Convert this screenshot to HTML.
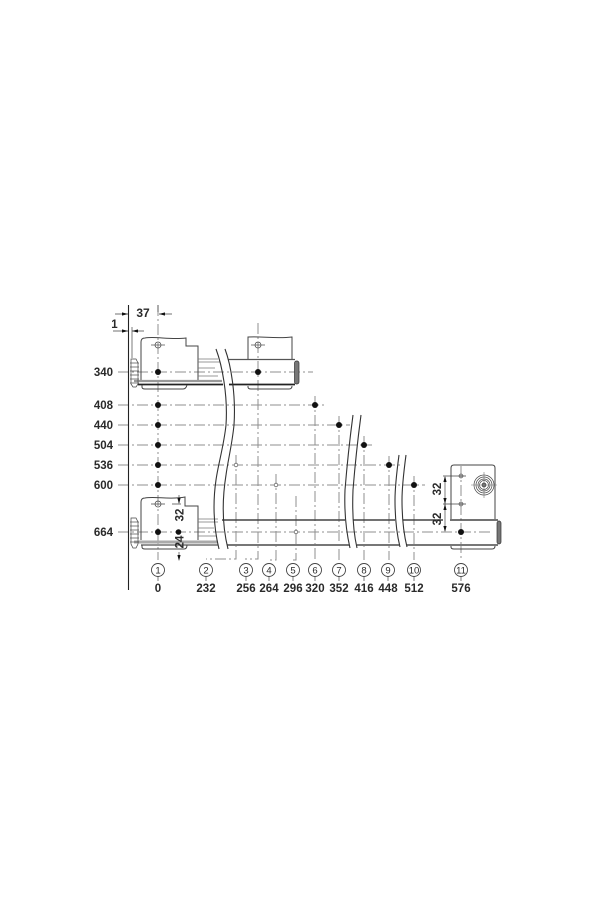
<!DOCTYPE html>
<html><head><meta charset="utf-8"><style>
html,body{margin:0;padding:0;background:#fff}
svg{display:block}
text{font-family:"Liberation Sans",sans-serif;font-weight:bold;font-size:11.5px;fill:#2a2a2a}
.d{stroke:#8f8f8f;stroke-width:1;fill:none;stroke-dasharray:11 3 2 3}
.o{stroke:#444;stroke-width:1;fill:none}
.t{stroke:#444;stroke-width:.7;fill:none}
.g{fill:#777;stroke:#333;stroke-width:.7}
.a{fill:#111;stroke:none}
.n{font-size:9.5px;font-weight:normal}
</style></head><body>
<svg width="600" height="900" viewBox="0 0 600 900" xmlns="http://www.w3.org/2000/svg">
<rect width="600" height="900" fill="#fff"/>
<!-- centre lines -->
<g class="d">
<path d="M118 372H313M118 405H325M118 425H350M118 445H372M118 465H400M118 485H425M118 532H490"/>
<path d="M158 305V560M258 323V559H245M236 455V559H206M276 474V560H269M296 496V560H293M315 396V560M339 416V560M364 436V560M389 456V560M414 476V560M461 466V558"/>
</g>
<!-- wall -->
<path d="M128.500 305V590" stroke="#222" stroke-width="1.100" fill="none"/>
<!-- top-left unit -->
<path class="o" d="M141 381V342Q141 338 145 338C155 336 170 340 186 338V346H198V380"/>
<path d="M198 359H218M198 362H220M198 368H215M198 376H218" stroke="#777" stroke-width=".8" fill="none"/>
<path d="M134 381H222" stroke="#999" stroke-width="2.200" fill="none"/>
<path d="M138 384.500H223" stroke="#222" stroke-width="1.800" fill="none"/>
<path class="o" d="M142 385V387Q142 389 145 389H183Q186 389 187 385"/>
<path class="t" d="M131 359H136L138 363V384L136 387H133L131 384Z"/>
<path d="M130 363H139M130 367H139M130 371H139M130 375H139M130 379H139M130 383H139" stroke="#555" stroke-width=".8" fill="none"/>
<circle class="t" cx="158" cy="345" r="3"/><path class="t" d="M151 345H165"/>
<!-- top-middle unit -->
<path class="o" d="M248 359V337C262 336 275 339 292 337V359"/>
<path d="M228 359.500H295" stroke="#555" stroke-width="1.300" fill="none"/>
<path d="M229 384.500H295" stroke="#222" stroke-width="1.800" fill="none"/>
<path class="o" d="M248 386V387Q248 389 251 389H289Q292 389 292 386"/>
<rect class="g" x="294.500" y="361" width="4.500" height="23" rx="2"/>
<circle class="t" cx="258" cy="345" r="3"/><path class="t" d="M251 345H265"/>
<!-- bottom-left unit -->
<path class="o" d="M141 540V502Q141 498 145 498C155 496 170 500 185 497V506H198V540"/>
<path d="M198 519H218M198 522H218M198 528H214M198 536H216" stroke="#777" stroke-width=".8" fill="none"/>
<path d="M134 542H218" stroke="#aaa" stroke-width="3" fill="none"/>
<path d="M141 545H218" stroke="#555" stroke-width="1.200" fill="none"/>
<path class="o" d="M142 545V547Q142 549 145 549H184Q187 549 187 545"/>
<path class="t" d="M131 518H136L138 522V544L136 548H133L131 544Z"/>
<path d="M130 522H139M130 526H139M130 530H139M130 534H139M130 538H139M130 542H139" stroke="#555" stroke-width=".8" fill="none"/>
<circle class="t" cx="158" cy="504" r="3"/><path class="t" d="M151 504H165M172 504H181"/>
<!-- lower long rail -->
<g fill="none">
<path d="M222 520H345M353 520H395M403 520H443M450 520H498" stroke="#444" stroke-width="1.600"/>
<path d="M227 545H349M357 545H399M407 545H498" stroke="#777" stroke-width="2"/>
</g>
<!-- right unit -->
<path class="o" d="M451 519V468Q451 465 454 465H492Q495 465 495 468V519"/>
<path class="o" d="M451 546V547Q451 549 454 549H492Q495 549 495 546"/>
<rect class="g" x="497" y="521" width="4" height="23" rx="2"/>
<g class="t">
<circle cx="484" cy="485" r="10"/><circle cx="484" cy="485" r="8"/><circle cx="484" cy="485" r="6"/><circle cx="484" cy="485" r="4.500"/>
</g>
<circle cx="484" cy="485" r="2" fill="#777" stroke="#333" stroke-width=".7"/>
<path d="M471 485H497M484 472V498" stroke="#777" stroke-width=".6" fill="none"/>
<circle cx="461" cy="476" r="2" fill="#bbb" stroke="#666" stroke-width=".7"/>
<circle cx="461" cy="504" r="2" fill="#bbb" stroke="#666" stroke-width=".7"/>
<path class="t" d="M443 476H466M443 504H466"/>
<path class="t" d="M445 477V531"/>
<path class="a" d="M445 476l-1.600 6h3.200zM445 504l-1.600-6h3.200zM445 504l-1.600 6h3.200zM445 532l-1.600-6h3.200z"/>
<!-- break lines -->
<g fill="none" stroke="#333" stroke-width="1.100">
<path d="M216 349C222 365 228 395 226 425C224 445 218 465 216 480C213 500 213 525 219 549"/>
<path d="M225 349C231 365 236 395 234 425C232 445 228 460 226 475C222 500 222 525 228 549"/>
<path d="M353 415C351 430 347 465 345 490C344 515 347 535 350 548"/>
<path d="M361 415C359 430 355 465 353 490C352 515 354 535 357 548"/>
<path d="M399 455C397 470 395 485 395 500C395 520 397 535 400 547"/>
<path d="M406 455C404 470 402 485 402 500C402 520 404 535 407 547"/>
</g>
<!-- holes and dots -->
<g fill="#111">
<circle cx="158" cy="372" r="3"/><circle cx="258" cy="372" r="3"/>
<circle cx="158" cy="405" r="3"/><circle cx="158" cy="425" r="3"/><circle cx="158" cy="445" r="3"/><circle cx="158" cy="465" r="3"/><circle cx="158" cy="485" r="3"/><circle cx="158" cy="532" r="3"/>
<circle cx="178.500" cy="532" r="2.800"/>
<circle cx="315" cy="405" r="3"/><circle cx="339" cy="425" r="3"/><circle cx="364" cy="445" r="3"/><circle cx="389" cy="465" r="3"/><circle cx="414" cy="485" r="3"/><circle cx="461" cy="532" r="3"/>
</g>
<g fill="#fff" stroke="#666" stroke-width=".8">
<circle cx="236" cy="465" r="1.800"/><circle cx="276" cy="485" r="1.800"/><circle cx="296" cy="532" r="1.800"/>
</g>
<!-- top dimensions -->
<path class="t" d="M115 314H128M159 314H172M113 331H128M132 331H144M132 327V358M158 305V312"/>
<path class="a" d="M128 314l-6-1.600v3.200zM159 314l6-1.600v3.200zM128 331l-6-1.600v3.200zM132 331l6-1.600v3.200z"/>
<text x="143" y="317" text-anchor="middle" style="font-size:12px">37</text>
<text x="114.500" y="328" text-anchor="middle">1</text>
<!-- left labels -->
<g text-anchor="end">
<text x="113" y="376">340</text><text x="113" y="409">408</text><text x="113" y="429">440</text><text x="113" y="449">504</text><text x="113" y="469">536</text><text x="113" y="489">600</text><text x="113" y="536">664</text>
</g>
<!-- bottom-left dimensions -->
<path class="t" d="M179 495V503M179 552V559"/>
<path class="a" d="M179 504l-1.600-6h3.200zM179 561l-1.600-6h3.200z"/>
<text transform="translate(183.500 515) rotate(-90)" text-anchor="middle">32</text>
<text transform="translate(183.500 542) rotate(-90)" text-anchor="middle">24</text>
<text transform="translate(441 489) rotate(-90)" text-anchor="middle">32</text>
<text transform="translate(441 519) rotate(-90)" text-anchor="middle">32</text>
<!-- callouts -->
<g fill="#fff" stroke="#444" stroke-width=".9">
<circle cx="158" cy="570" r="6.500"/><circle cx="206" cy="570" r="6.500"/><circle cx="246" cy="570" r="6.500"/><circle cx="269" cy="570" r="6.500"/><circle cx="293" cy="570" r="6.500"/><circle cx="315" cy="570" r="6.500"/><circle cx="339" cy="570" r="6.500"/><circle cx="364" cy="570" r="6.500"/><circle cx="388" cy="570" r="6.500"/><circle cx="414" cy="570" r="6.500"/><circle cx="461" cy="570" r="6.500"/>
</g>
<path class="t" d="M158 577V581M206 577V581M246 577V581M269 577V581M293 577V581M315 577V581M339 577V581M364 577V581M388 577V581M414 577V581M461 577V581"/>
<g text-anchor="middle">
<text class="n" x="158" y="573.500">1</text><text class="n" x="206" y="573.500">2</text><text class="n" x="246" y="573.500">3</text><text class="n" x="269" y="573.500">4</text><text class="n" x="293" y="573.500">5</text><text class="n" x="315" y="573.500">6</text><text class="n" x="339" y="573.500">7</text><text class="n" x="364" y="573.500">8</text><text class="n" x="388" y="573.500">9</text><text class="n" x="414" y="573.500">10</text><text class="n" x="461" y="573.500">11</text>
</g>
<g text-anchor="middle">
<text x="158" y="592">0</text><text x="206" y="592">232</text><text x="246" y="592">256</text><text x="269" y="592">264</text><text x="293" y="592">296</text><text x="315" y="592">320</text><text x="339" y="592">352</text><text x="364" y="592">416</text><text x="388" y="592">448</text><text x="414" y="592">512</text><text x="461" y="592">576</text>
</g>
</svg>
</body></html>
